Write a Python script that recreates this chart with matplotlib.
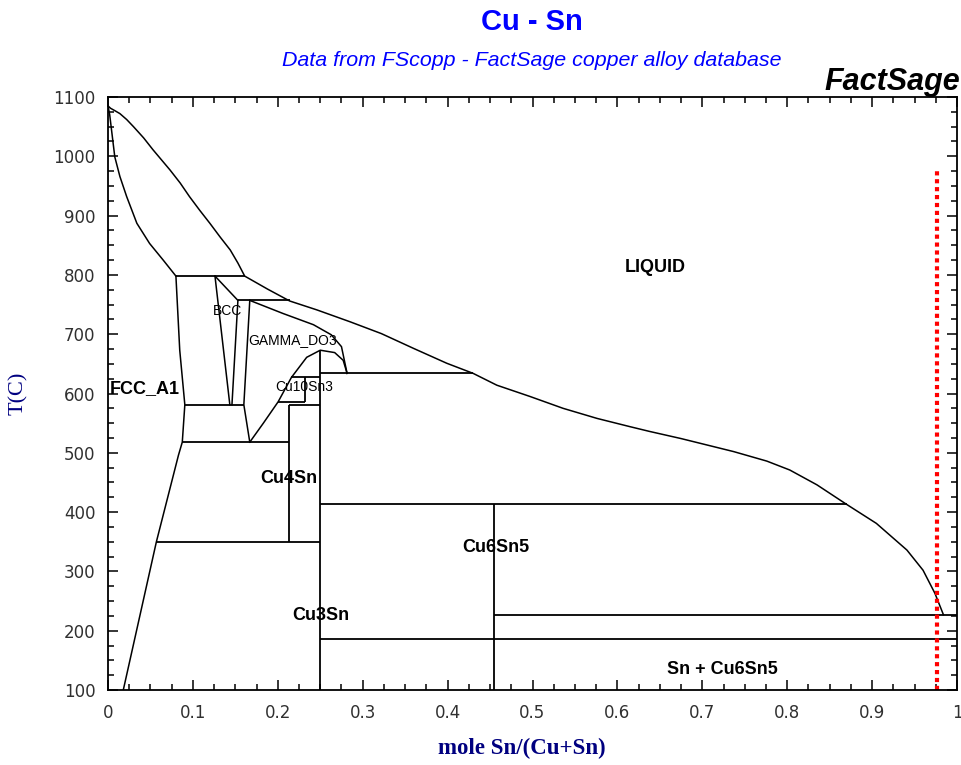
import numpy as np
import matplotlib
matplotlib.use("Agg")
import matplotlib.pyplot as plt
from matplotlib.ticker import MultipleLocator

# phase boundaries (x = mole Sn, T in C)
liquidus_x = [0.0, 0.003, 0.008, 0.014, 0.022, 0.030, 0.042, 0.053, 0.063, 0.073,
              0.085, 0.096, 0.108, 0.120, 0.132, 0.144, 0.153, 0.161,
              0.188, 0.214, 0.246, 0.285, 0.322, 0.360, 0.399, 0.430, 0.458,
              0.497, 0.536, 0.576, 0.615, 0.638, 0.675, 0.737, 0.776, 0.803,
              0.835, 0.870, 0.905, 0.941, 0.960, 0.974, 0.984]
liquidus_T = [1085, 1081, 1077, 1072, 1062, 1050, 1031, 1011, 994, 977,
              955, 932, 909, 887, 864, 842, 820, 798,
              776, 756, 741, 721, 701, 676, 651, 634, 614,
              595, 575, 558, 544, 536, 524, 502, 486, 471,
              446, 413, 381, 336, 302, 263, 227]

solidus_x = [0.0, 0.002, 0.008, 0.014, 0.022, 0.034, 0.049, 0.065, 0.080]
solidus_T = [1085, 1070, 999, 966, 932, 887, 853, 825, 798]

fcc_solvus_x = [0.080, 0.0845, 0.0905, 0.0875, 0.083, 0.057, 0.018]
fcc_solvus_T = [798, 673, 581, 518, 496, 350, 100]

bcc_left_x = [0.126, 0.1435]
bcc_left_T = [798, 581]
bcc_top_x = [0.126, 0.153]
bcc_top_T = [798, 757]
bcc_right_x = [0.153, 0.146]
bcc_right_T = [757, 581]

gamma_left_x = [0.167, 0.160, 0.167]
gamma_left_T = [757, 581, 518]
gamma_solidus_x = [0.167, 0.206, 0.242, 0.263, 0.275, 0.2816]
gamma_solidus_T = [757, 735, 716, 699, 679, 634]

dome_x = [0.167, 0.183, 0.2004, 0.216, 0.234, 0.250, 0.267, 0.277, 0.2816]
dome_T = [518, 550, 586, 627, 661, 673, 669, 656, 634]

# horizontal invariant lines: temperature, from x, to x
iso_T = [798, 757, 634, 627, 586, 581, 581, 518, 350, 413, 227, 186]
iso_x0 = [0.080, 0.153, 0.250, 0.216, 0.2004, 0.0905, 0.213, 0.0875, 0.057, 0.250, 0.455, 0.250]
iso_x1 = [0.161, 0.214, 0.430, 0.250, 0.2325, 0.160, 0.250, 0.213, 0.250, 0.870, 1.0, 1.0]

# vertical compound lines: x, from T, to T
vert_x = [0.2325, 0.213, 0.250, 0.455]
vert_T0 = [586, 350, 100, 100]
vert_T1 = [627, 581, 673, 413]

sample_x = 0.976
sample_T = [100, 980]

xticks = [0, 0.1, 0.2, 0.3, 0.4, 0.5, 0.6, 0.7, 0.8, 0.9, 1]
xtick_labels = ['0', '0.1', '0.2', '0.3', '0.4', '0.5', '0.6', '0.7', '0.8', '0.9', '1']
yticks = [100, 200, 300, 400, 500, 600, 700, 800, 900, 1000, 1100]

fig = plt.figure(figsize=(9.62, 7.65), dpi=100)
ax = fig.add_axes([108 / 962, 1 - 690 / 765, (957 - 108) / 962, (690 - 97) / 765])

lw = 1.1
ax.plot(liquidus_x, liquidus_T, 'k-', lw=lw)
ax.plot(solidus_x, solidus_T, 'k-', lw=lw)
ax.plot(fcc_solvus_x, fcc_solvus_T, 'k-', lw=lw)
ax.plot(bcc_left_x, bcc_left_T, 'k-', lw=lw)
ax.plot(bcc_top_x, bcc_top_T, 'k-', lw=lw)
ax.plot(bcc_right_x, bcc_right_T, 'k-', lw=lw)
ax.plot(gamma_left_x, gamma_left_T, 'k-', lw=lw)
ax.plot(gamma_solidus_x, gamma_solidus_T, 'k-', lw=lw)
ax.plot(dome_x, dome_T, 'k-', lw=lw)
ax.hlines(iso_T, iso_x0, iso_x1, colors='k', lw=1.3)
ax.vlines(vert_x, vert_T0, vert_T1, colors='k', lw=1.3)

# red dotted composition line
ax.plot([sample_x, sample_x], sample_T, color='#ff0000', lw=3,
        linestyle=(0, (1.0, 0.9)), dash_capstyle='butt')

ax.set_xlim(0, 1)
ax.set_ylim(100, 1100)
ax.set_xticks(xticks)
ax.set_xticklabels(xtick_labels)
ax.set_yticks(yticks)
ax.xaxis.set_minor_locator(MultipleLocator(0.025))
ax.yaxis.set_minor_locator(MultipleLocator(25))
ax.tick_params(which='both', direction='in', top=True, right=True, width=1.1,
               colors='k', labelcolor='#303030', labelsize=12)
ax.tick_params(which='major', length=7)
ax.tick_params(which='minor', length=4)
ax.tick_params(axis='x', pad=10)
ax.tick_params(axis='y', pad=9)
for s in ax.spines.values():
    s.set_linewidth(1.3)

# phase labels
bold = dict(fontfamily='Liberation Sans', fontweight='bold', fontsize=13, color='k')
small = dict(fontfamily='Liberation Sans', fontsize=10, color='k')
ax.text(0.645, 812, 'LIQUID', ha='center', va='center', **bold)
ax.text(0.002, 608, 'FCC_A1', ha='left', va='center', **bold)
ax.text(0.2126, 457, 'Cu4Sn', ha='center', va='center', **bold)
ax.text(0.457, 340, 'Cu6Sn5', ha='center', va='center', **bold)
ax.text(0.251, 226, 'Cu3Sn', ha='center', va='center', **bold)
ax.text(0.7235, 134, 'Sn + Cu6Sn5', ha='center', va='center', **bold)
ax.text(0.123, 739, 'BCC', ha='left', va='center', **small)
ax.text(0.165, 690, 'GAMMA_DO3', ha='left', va='center', **small)
ax.text(0.231, 611, 'Cu10Sn3', ha='center', va='center', **small)

ax.set_xlabel('mole Sn/(Cu+Sn)', fontfamily='Liberation Serif', fontweight='bold',
              fontsize=16.5, color='#000080', va='center', ha='center')
ax.xaxis.set_label_coords(0.488, -0.098)
ax.set_ylabel('T(C)', fontfamily='Liberation Serif', fontsize=16, color='#000080',
              va='center', ha='center')
ax.yaxis.set_label_coords(-0.106, 0.5)

fig.text(532 / 962, 1 - 22 / 765, 'Cu - Sn', ha='center', va='center',
         fontfamily='Liberation Sans', fontweight='bold', fontsize=21, color='#0000ff')
fig.text(532 / 962, 1 - 60 / 765, 'Data from FScopp - FactSage copper alloy database',
         ha='center', va='center', fontfamily='Liberation Sans', fontstyle='italic',
         fontsize=15.4, color='#0000ff')
fig.text(960 / 962, 1 - 82 / 765, 'FactSage', ha='right', va='center',
         fontfamily='Liberation Sans', fontweight='bold', fontstyle='italic',
         fontsize=22, color='k')

fig.savefig('out.png', dpi=100)
